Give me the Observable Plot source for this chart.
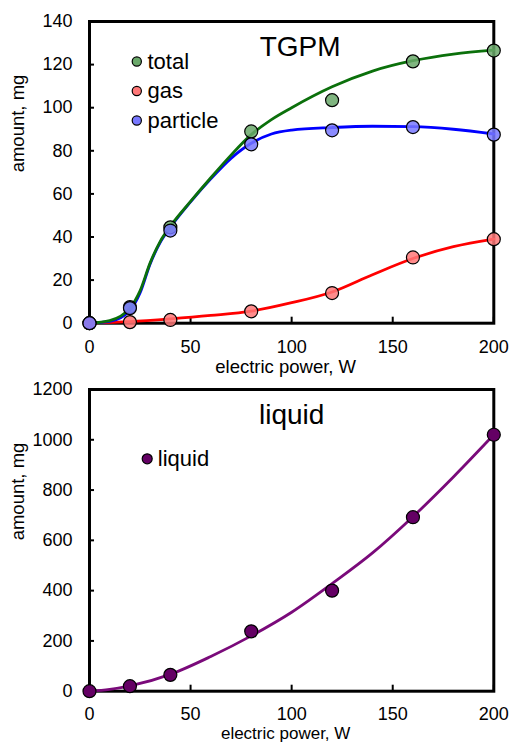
<!DOCTYPE html>
<html>
<head>
<meta charset="utf-8">
<script src="https://cdn.jsdelivr.net/npm/d3@7"></script>
<script src="https://cdn.jsdelivr.net/npm/@observablehq/plot@0.6"></script>
<style>
  html, body { margin: 0; padding: 0; background: #fff; }
  #chart svg { display: block; }
</style>
</head>
<body>
<div id="chart"></div>
<script>
// ---------- data ----------
const power = [0, 20, 40, 80, 120, 160, 200];
const totalPts = [0, 7.5, 44.5, 89, 103.5, 121.5, 126.5];
const gasPts = [0, 0.5, 1.5, 5.5, 14, 30.5, 39];
const particlePts = [0, 7, 43, 83, 89.5, 91, 87.5];
const liquidPts = [0, 20, 65, 238, 400, 692, 1020];

// fitted curves
const totalCurveX = [0, 10, 20, 25, 30, 35, 40, 50, 60, 70, 80, 90, 100, 120, 140, 160, 180, 200];
const totalCurveY = [0, 1.2, 7, 15, 28, 38, 45, 56.5, 67.5, 78, 87.5, 94.5, 100, 109.7, 117, 121.8, 124.9, 126.7];
const particleCurveX = [0, 10, 20, 25, 30, 35, 40, 50, 60, 70, 80, 90, 100, 120, 140, 160, 180, 200];
const particleCurveY = [0, 0.8, 6, 14, 27.5, 37.5, 44.5, 56.3, 67, 76.5, 83.5, 87.8, 89.6, 90.8, 91.4, 91.2, 90, 87.8];
const gasCurveX = [0, 20, 40, 60, 80, 100, 120, 140, 160, 180, 200];
const gasCurveY = [0, 0.7, 2, 3.6, 5.6, 9.5, 14.5, 22.5, 30, 35.5, 39];
const liquidCurveX = [0, 10, 20, 40, 60, 80, 100, 120, 140, 160, 180, 200];
const liquidCurveY = [0, 7, 21, 67, 138, 220, 314, 428, 550, 694, 852, 1020];

const xTicks = [0, 50, 100, 150, 200];
const yTicksTop = [0, 20, 40, 60, 80, 100, 120, 140];
const yTicksBottom = [0, 200, 400, 600, 800, 1000, 1200];

const seriesNames = ["total", "gas", "particle"];
const lineColors = {total: "#0b700b", gas: "#ff0000", particle: "#0000ff", liquid: "#7a0a7a"};
const dotColors = {total: "#6aa86a", gas: "#ff7878", particle: "#7878ff", liquid: "#640064"};

// ---------- build tables ----------
const pts = (ys, name) => power.map((x, i) => ({x, y: ys[i], s: name}));
const curve = (xs, ys, name) => xs.map((x, i) => ({x, y: ys[i], s: name}));

const topPoints = [...pts(totalPts, "total"), ...pts(gasPts, "gas"), ...pts(particlePts, "particle")];
const topCurves = [
  ...curve(gasCurveX, gasCurveY, "gas"),
  ...curve(particleCurveX, particleCurveY, "particle"),
  ...curve(totalCurveX, totalCurveY, "total")
];
const liqPoints = pts(liquidPts, "liquid");
const liqCurve = curve(liquidCurveX, liquidCurveY, "liquid");

const font = "'Liberation Sans', Arial, Helvetica, sans-serif";
const baseStyle = {fontFamily: font, fontSize: "18px", color: "#000", background: "#fff", overflow: "visible"};

function axes(yTicks, xPad, titleDy, titleSize) {
  return [
    Plot.axisX(xTicks, {tickSize: -6, tickPadding: xPad, strokeWidth: 2, fontSize: 18, label: null, tickFormat: d => String(d)}),
    Plot.axisY(yTicks, {tickSize: -5, tickPadding: 22, strokeWidth: 2, fontSize: 18, label: null, tickFormat: d => String(d)}),
    Plot.frame({stroke: "#000", strokeWidth: 3}),
    Plot.text(["electric power, W"], {frameAnchor: "bottom", dy: titleDy, lineAnchor: "middle", fontSize: titleSize, dx: -6}),
    Plot.text(["amount, mg"], {frameAnchor: "left", dx: -71, rotate: -90, lineAnchor: "middle", fontSize: 18.5})
  ];
}

// ---------- top panel ----------
const topChart = Plot.plot({
  width: 512, height: 370,
  marginLeft: 89, marginRight: 18.7, marginTop: 21, marginBottom: 47.3,
  x: {domain: [0, 200]},
  y: {domain: [0, 140]},
  style: baseStyle,
  marks: [
    ...axes(yTicksTop, 23, 43.5, 18.5),
    Plot.line(topCurves, {x: "x", y: "y", z: "s", stroke: d => lineColors[d.s], strokeWidth: 2.8, curve: "monotone-x"}),
    Plot.dot(topPoints, {x: "x", y: "y", r: 6.5, fill: d => dotColors[d.s], fillOpacity: 0.85, stroke: "#000", strokeWidth: 1.2}),
    Plot.text(["TGPM"], {frameAnchor: "top", dx: 8.5, dy: 34, lineAnchor: "bottom", fontSize: 28}),
    ...seriesNames.map((n, i) => Plot.dot([n], {frameAnchor: "top-left", dx: 47.3, dy: 40 + i * 29.5, r: 4.6, fill: dotColors[n], stroke: "#000", strokeWidth: 1.2})),
    ...seriesNames.map((n, i) => Plot.text([n], {frameAnchor: "top-left", dx: 58, dy: 40 + i * 29.5, text: d => d, textAnchor: "start", lineAnchor: "middle", fontSize: 22}))
  ]
});

// ---------- bottom panel ----------
const bottomChart = Plot.plot({
  width: 512, height: 372,
  marginLeft: 89, marginRight: 18.7, marginTop: 19, marginBottom: 51.3,
  x: {domain: [0, 200]},
  y: {domain: [0, 1200]},
  style: baseStyle,
  marks: [
    ...axes(yTicksBottom, 22, 42.3, 17),
    Plot.line(liqCurve, {x: "x", y: "y", stroke: lineColors.liquid, strokeWidth: 2.8, curve: "monotone-x"}),
    Plot.dot(liqPoints, {x: "x", y: "y", r: 6.5, fill: dotColors.liquid, stroke: "#000", strokeWidth: 1.2}),
    Plot.text(["liquid"], {frameAnchor: "top", dx: 0, dy: 34.3, lineAnchor: "bottom", fontSize: 28}),
    Plot.dot(["liquid"], {frameAnchor: "top-left", dx: 57.7, dy: 69.3, r: 5, fill: dotColors.liquid, stroke: "#000", strokeWidth: 1.2}),
    Plot.text(["liquid"], {frameAnchor: "top-left", dx: 68.3, dy: 69.3, text: d => d, textAnchor: "start", lineAnchor: "middle", fontSize: 22})
  ]
});

document.getElementById("chart").append(topChart, bottomChart);
</script>
</body>
</html>
